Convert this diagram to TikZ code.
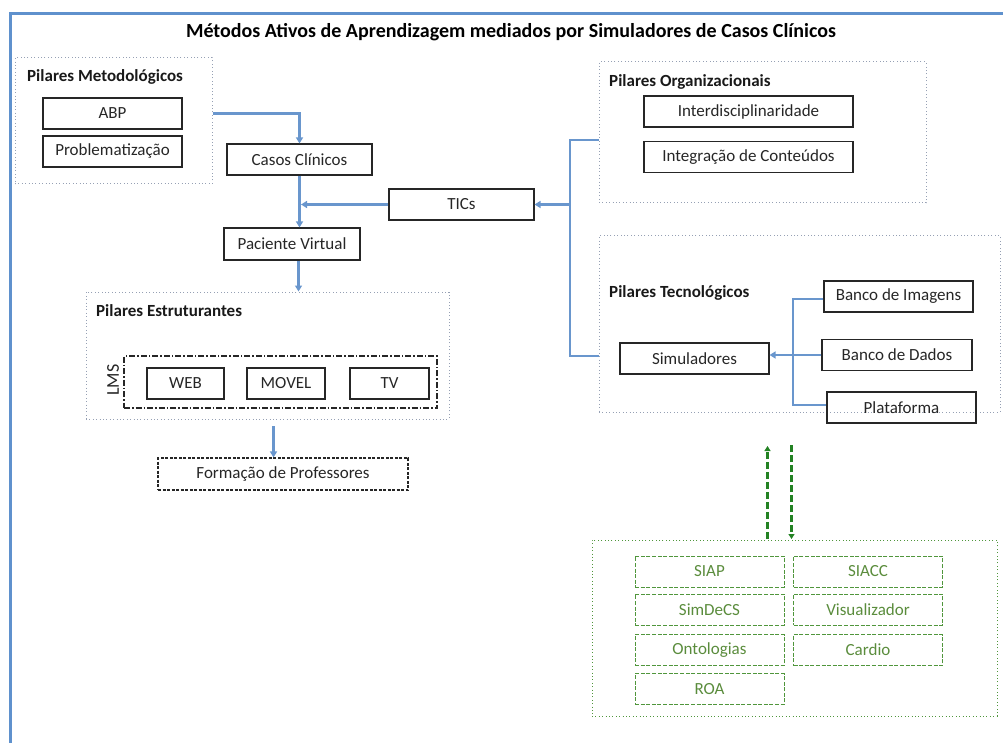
\documentclass[tikz,border=0pt]{standalone}
\usepackage{fontspec}
\setmainfont{Carlito}
\usetikzlibrary{arrows.meta}
\definecolor{frameblue}{RGB}{95,145,205}
\definecolor{linkblue}{RGB}{105,150,205}
\definecolor{dotgray}{RGB}{150,160,180}
\definecolor{simgreen}{RGB}{80,150,60}
\definecolor{textgreen}{RGB}{90,140,60}
\definecolor{arrowgreen}{RGB}{35,130,35}
\begin{document}
\begin{tikzpicture}[x=1pt,y=-1pt,
  box/.style={draw=black!85,line width=1.1pt,minimum height=31pt,inner sep=0pt,
    font=\fontsize{17}{20}\selectfont,text=black!85},
  group/.style={draw=dotgray,line width=1pt,dash pattern=on 1pt off 2.4pt,inner sep=0pt},
  grouplabel/.style={anchor=west,inner sep=0pt,font=\bfseries\fontsize{17}{20}\selectfont,text=black!90},
  link/.style={draw=linkblue,line width=2.8pt},
  linkarrow/.style={link,-{Triangle[length=6pt,width=7pt]}},
  simbox/.style={draw=simgreen,line width=1pt,dash pattern=on 4pt off 1.6pt,
    minimum width=149pt,minimum height=31pt,inner sep=0pt,text=textgreen,
    font=\fontsize{17}{20}\selectfont},
  simlink/.style={draw=arrowgreen,line width=3pt,dash pattern=on 7pt off 3pt,
    -{Triangle[length=5pt,width=6pt]}}
]
\useasboundingbox (0,0) rectangle (1003,743);

% outer frame, running off the page on the right and bottom
\begin{scope}
  \clip (0,0) rectangle (1003,743);
  \draw[frameblue,line width=3pt] (10,14) rectangle (1030,770);
\end{scope}

\node[font=\bfseries\fontsize{20}{24}\selectfont] (title) at (511,32)
  {Métodos Ativos de Aprendizagem mediados por Simuladores de Casos Clínicos};

% group containers
\node[group,minimum width=197pt,minimum height=126pt] (metod) at (113.5,121) {};
\node[group,minimum width=327pt,minimum height=141pt] (org) at (762.5,132.5) {};
\node[group,minimum width=401pt,minimum height=176pt] (tec) at (799.5,324) {};
\node[group,minimum width=363pt,minimum height=127pt] (estrut) at (267.5,355.5) {};
\node[group,draw=simgreen,minimum width=405pt,minimum height=176pt] (sims) at (794.5,628) {};

\node[grouplabel] (metodlabel) at (27,77) {Pilares Metodológicos};
\node[grouplabel] (orglabel) at (609,82) {Pilares Organizacionais};
\node[grouplabel] (teclabel) at (609,293) {Pilares Tecnológicos};
\node[grouplabel] (estrutlabel) at (96,311) {Pilares Estruturantes};

% methodological pillars
\node[box,minimum width=139pt] (abp) at (112.5,113.5) {ABP};
\node[box,minimum width=139pt] (prob) at (112.5,151.5) {Problematização};

% central flow
\node[box,minimum width=145pt] (casos) at (299.5,159.5) {Casos Clínicos};
\node[box,minimum width=145pt] (tics) at (461.5,204.5) {TICs};
\node[box,minimum width=136pt,minimum height=32pt] (pac) at (292,244) {Paciente Virtual};

% structuring pillars
\node[draw=black!85,line width=1.1pt,dash pattern=on 6pt off 2pt on 1.5pt off 2pt,
  minimum width=313pt,minimum height=52pt,inner sep=0pt] (lms) at (280.5,382) {};
\node[rotate=90,inner sep=0pt,font=\fontsize{18}{20}\selectfont,text=black!85] (lmslabel) at (113,380) {LMS};
\node[box,minimum width=77pt] (web) at (185.5,383.5) {WEB};
\node[box,minimum width=78pt] (movel) at (286,383.5) {MOVEL};
\node[box,minimum width=79pt] (tv) at (389.5,383.5) {TV};
\node[box,dash pattern=on 3pt off 1.5pt,minimum width=250pt,minimum height=32pt] (form) at (283,474) {Formação de Professores};

% organisational pillars
\node[box,minimum width=209pt] (inter) at (748.5,111.5) {Interdisciplinaridade};
\node[box,minimum width=209pt] (integ) at (748.5,157) {Integração de Conteúdos};

% technological pillars
\node[box,minimum width=149pt] (simul) at (694.5,358.5) {Simuladores};
\node[box,minimum width=149pt] (bimg) at (898.5,296.5) {Banco de Imagens};
\node[box,minimum width=150pt] (bdad) at (897,355) {Banco de Dados};
\node[box,minimum width=149pt] (plat) at (901.5,407.5) {Plataforma};

% simulators
\node[simbox] (siap) at (709.5,571.5) {SIAP};
\node[simbox] (siacc) at (868,571.5) {SIACC};
\node[simbox] (simdecs) at (709.5,609.5) {SimDeCS};
\node[simbox] (visual) at (868,609.5) {Visualizador};
\node[simbox] (onto) at (709.5,650) {Ontologias};
\node[simbox] (cardio) at (868,650) {Cardio};
\node[simbox] (roa) at (709.5,689) {ROA};

% connectors
\draw[linkarrow] (metod.east |- abp) -| (casos.north);
\draw[linkarrow] (casos.south) -- (casos.south |- pac.north);
\draw[linkarrow] (tics.west) -- ([xshift=1.5pt]tics.west -| casos.south);
\draw[linkarrow] ([xshift=6.5pt]pac.south) -- ([xshift=6.5pt]pac.south |- estrut.north);
\coordinate (fa) at (273.5,426);
\draw[linkarrow] (fa) -- (fa |- form.north);

\coordinate (jt) at (570,140);
\coordinate (jb) at (570,356);
\draw[link] (jt -| org.west) -- (jt) -- (jb) -- (jb -| tec.west);
\draw[linkarrow] (jt |- tics) -- (tics.east);

\coordinate (kt) at (793,299);
\coordinate (kb) at (793,405);
\draw[link] (kt -| bimg.west) -- (kt) -- (kb) -- (kb -| plat.west);
\draw[linkarrow] (bdad.west) -- (bdad.west -| simul.east);

\coordinate (gu1) at (767.5,539);
\coordinate (gu2) at (767.5,446);
\coordinate (gd1) at (791.5,445);
\coordinate (gd2) at (791.5,539);
\draw[simlink] (gu1) -- (gu2);
\draw[simlink] (gd1) -- (gd2);
\end{tikzpicture}
\end{document}
